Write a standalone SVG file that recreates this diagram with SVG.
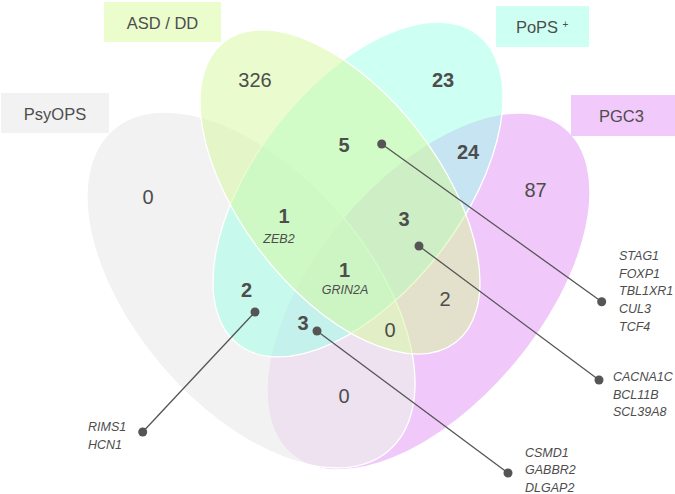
<svg xmlns="http://www.w3.org/2000/svg" width="675" height="494" viewBox="0 0 675 494">
<style>
text{font-family:"Liberation Sans",Arial,sans-serif;fill:#4d4d4d}
.set{stroke:#fff;stroke-width:1.3;fill-opacity:0.5}
.lab{font-size:16.5px;text-anchor:middle}
.n{font-size:20px;text-anchor:middle}
.b{font-weight:bold}
.g{font-size:12.5px;font-style:italic}
.gc{font-size:12.5px;font-style:italic;text-anchor:middle}
.con line{stroke:#555;stroke-width:1.3}
.con circle{fill:#555}
</style>
<rect width="675" height="494" fill="#fff"/>
<g id="set-PGC3">
<ellipse class="set" cx="428.5" cy="291.5" rx="212.8" ry="112.5" transform="rotate(-50.1 428.5 291.5)" fill="#e193f5"/>
<rect x="571" y="95" width="104" height="41" fill="#f1c9fa"/>
<text class="lab" x="621.5" y="122">PGC3</text>
</g>
<g id="set-PsyOPS">
<ellipse class="set" cx="251" cy="290" rx="211.6" ry="117.5" transform="rotate(49.45 251 290)" fill="#ececec" style="fill-opacity:0.7"/>
<rect x="1" y="93" width="108" height="40" fill="#f2f2f2"/>
<text class="lab" x="55" y="120">PsyOPS</text>
</g>
<g id="set-PoPS">
<ellipse class="set" cx="358" cy="189.5" rx="195.9" ry="103.4" transform="rotate(-52.35 358 189.5)" fill="#9bffe7"/>
<rect x="496" y="6" width="93" height="41" fill="#cdfff3"/>
<text class="lab" x="537" y="33">PoPS</text>
<text x="565.5" y="28" font-size="10" text-anchor="middle">+</text>
</g>
<g id="set-ASD-DD">
<ellipse class="set" cx="340" cy="192" rx="189.7" ry="99.3" transform="rotate(52.4 340 192)" fill="#d5f99b"/>
<rect x="104" y="2" width="117" height="40" fill="#ebfccd"/>
<text class="lab" x="162.5" y="28.5">ASD / DD</text>
</g>
<g id="connectors" class="con">
<line x1="381.7" y1="144" x2="601.7" y2="301.7"/>
<circle cx="381.7" cy="144" r="4.5"/><circle cx="601.7" cy="301.7" r="4.5"/>
<line x1="419" y1="246" x2="599" y2="380"/>
<circle cx="419" cy="246" r="4.5"/><circle cx="599" cy="380" r="4.5"/>
<line x1="255" y1="312" x2="142.7" y2="432"/>
<circle cx="255" cy="312" r="4.5"/><circle cx="142.7" cy="432" r="4.5"/>
<line x1="317" y1="331" x2="508" y2="473"/>
<circle cx="317" cy="331" r="4.5"/><circle cx="508" cy="473" r="4.5"/>
</g>
<g id="counts">
<text class="n" x="255" y="87">326</text>
<text class="n b" x="443" y="87">23</text>
<text class="n" x="148" y="204">0</text>
<text class="n" x="535.5" y="197">87</text>
<text class="n b" x="344" y="152">5</text>
<text class="n b" x="468" y="158.5">24</text>
<text class="n b" x="284" y="222.5">1</text>
<text class="gc" x="279" y="243">ZEB2</text>
<text class="n b" x="404" y="226">3</text>
<text class="n b" x="344.5" y="277">1</text>
<text class="gc" x="345" y="294">GRIN2A</text>
<text class="n b" x="246.5" y="297">2</text>
<text class="n b" x="303" y="330">3</text>
<text class="n" x="445" y="306">2</text>
<text class="n" x="390" y="337">0</text>
<text class="n" x="344" y="403">0</text>
</g>
<g id="genes-BCD-ABCD">
<text class="g" x="619" y="260">STAG1</text>
<text class="g" x="619" y="277.7">FOXP1</text>
<text class="g" x="619" y="295.3">TBL1XR1</text>
<text class="g" x="619" y="313">CUL3</text>
<text class="g" x="619" y="330.5">TCF4</text>
</g>
<g id="genes-BCD">
<text class="g" x="613" y="381">CACNA1C</text>
<text class="g" x="613" y="398.7">BCL11B</text>
<text class="g" x="613" y="416.3">SCL39A8</text>
</g>
<g id="genes-ACD">
<text class="g" x="525" y="456.7">CSMD1</text>
<text class="g" x="525" y="474.3">GABBR2</text>
<text class="g" x="525" y="492">DLGAP2</text>
</g>
<g id="genes-AC">
<text class="g" x="88" y="431">RIMS1</text>
<text class="g" x="88" y="448.5">HCN1</text>
</g>
</svg>
